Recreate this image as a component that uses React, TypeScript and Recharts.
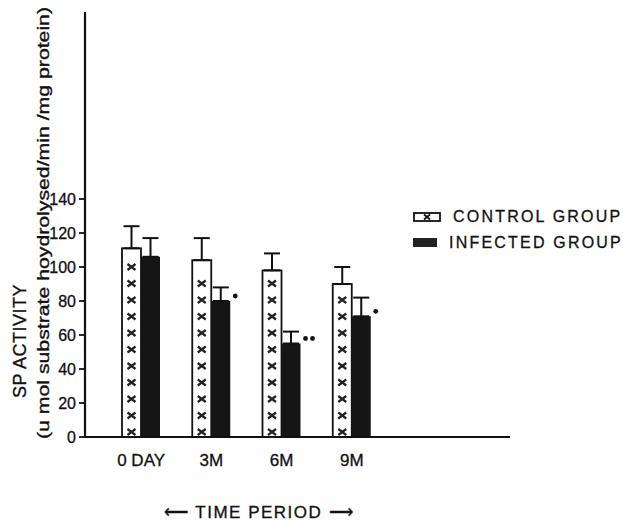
import { BarChart, Bar, XAxis, YAxis, ErrorBar, LabelList, Legend } from 'recharts'

const PERIODS = ['0 DAY', '3M', '6M', '9M']
const CONTROL = [111, 104, 98, 90]
const CONTROL_ERR = [13, 13, 10, 10]
const INFECTED = [106, 80, 55, 71]
const INFECTED_ERR = [11, 8, 7, 11]
const SIGNIFICANCE = ['', '•', '••', '•']
const Y_TICKS = [0, 20, 40, 60, 80, 100, 120, 140]

const FONT = '"Liberation Sans", Arial, sans-serif'
const INK = '#111'

const data = PERIODS.map((p, i) => ({
    period: p,
    control: CONTROL[i],
    controlErr: [0, CONTROL_ERR[i]],
    infected: INFECTED[i],
    infectedErr: [0, INFECTED_ERR[i]],
    sig: SIGNIFICANCE[i],
}))

// white bar with a column of x marks, like the hand drawn hatching
function CrossBar(props: any) {
    const { x, y, width, height } = props
    const cx = x + width / 2
    const marks: number[] = []
    for (let cy = y + height - 5; cy > y + 7; cy -= 16.5) marks.push(cy)
    return (
        <g>
            <rect x={x} y={y} width={width} height={height} fill="#fff" stroke={INK} strokeWidth={1.8} />
            {marks.map((cy, i) => (
                <path
                    key={i}
                    d={`M${cx - 4},${cy - 3}L${cx + 4},${cy + 3}M${cx - 4},${cy + 3}L${cx + 4},${cy - 3}`}
                    stroke="#222"
                    strokeWidth={2.2}
                />
            ))}
        </g>
    )
}

function SigDots(props: any) {
    const { x, y, width, value } = props
    if (!value) return null
    return (
        <g>
            {Array.from(value as string).map((_, i) => (
                <circle key={i} cx={x + width + 5 + i * 7} cy={y - 5} r={2.4} fill={INK} />
            ))}
        </g>
    )
}

function LegendBox() {
    const row = { display: 'flex', alignItems: 'center', height: 26, whiteSpace: 'nowrap' as const }
    const txt = { fontFamily: FONT, fontSize: 16, letterSpacing: 2.2, color: INK, marginLeft: 12, WebkitTextStroke: '0.3px #111' }
    return (
        <div>
            <div style={row}>
                <svg width={28} height={10}>
                    <rect x={1} y={1} width={26} height={8} fill="#fff" stroke={INK} strokeWidth={1.8} />
                    <path d="M11,2.5L17,7.5M11,7.5L17,2.5" stroke={INK} strokeWidth={1.8} />
                </svg>
                <span style={txt}>CONTROL GROUP</span>
            </div>
            <div style={row}>
                <svg width={28} height={10}>
                    <rect x={0} y={0} width={28} height={9} fill="#222" />
                </svg>
                <span style={txt}>INFECTED GROUP</span>
            </div>
        </div>
    )
}

function YLabel() {
    return (
        <g fill={INK} fontFamily={FONT} stroke={INK} strokeWidth={0.35}>
            <text x={20} y={341} fontSize={18} textAnchor="middle" dominantBaseline="central" letterSpacing={0.5} transform="rotate(-90 20 341)">
                SP ACTIVITY
            </text>
            <text
                x={43}
                y={223}
                fontSize={16}
                textAnchor="middle"
                dominantBaseline="central"
                textLength={432}
                lengthAdjust="spacingAndGlyphs"
                transform="rotate(-90 43 223)"
            >
                (u mol substrate hoydrolysed/min /mg protein)
            </text>
        </g>
    )
}

function XLabel() {
    return (
        <text
            x={259}
            y={512}
            fontSize={17}
            fontFamily={FONT}
            fill={INK}
            stroke={INK}
            strokeWidth={0.3}
            textAnchor="middle"
            dominantBaseline="central"
            letterSpacing={1.5}
        >
            ⟵ TIME PERIOD ⟶
        </text>
    )
}

export default function App() {
    return (
        <div style={{ position: 'absolute', left: 0, top: 0, background: '#fff' }}>
            <BarChart
                width={623}
                height={520}
                data={data}
                margin={{ top: 12, right: 113, bottom: 0, left: 0 }}
                barSize={19}
                barGap={0}
            >
                <XAxis
                    dataKey="period"
                    height={83}
                    padding={{ left: 21, right: 123 }}
                    axisLine={{ stroke: INK, strokeWidth: 1.8 }}
                    tickLine={false}
                    tickSize={0}
                    tickMargin={17}
                    tick={{ fill: INK, fontSize: 17, fontFamily: FONT, stroke: INK, strokeWidth: 0.3 }}
                    label={{ content: () => <XLabel /> }}
                />
                <YAxis
                    width={85}
                    domain={[0, 250]}
                    allowDataOverflow
                    ticks={Y_TICKS}
                    axisLine={{ stroke: INK, strokeWidth: 2.2 }}
                    tickLine={{ stroke: INK, strokeWidth: 1.8 }}
                    tickSize={6}
                    tickMargin={3}
                    tick={{ fill: INK, fontSize: 16, fontFamily: FONT, stroke: INK, strokeWidth: 0.3 }}
                    label={{ content: () => <YLabel /> }}
                />
                <Legend
                    layout="vertical"
                    align="center"
                    verticalAlign="middle"
                    content={() => <LegendBox />}
                    wrapperStyle={{ position: 'absolute', left: 413, top: 204, width: 210 }}
                />
                <Bar dataKey="control" name="CONTROL GROUP" shape={<CrossBar />} isAnimationActive={false}>
                    <ErrorBar dataKey="controlErr" width={8} strokeWidth={2} stroke={INK} direction="y" />
                </Bar>
                <Bar dataKey="infected" name="INFECTED GROUP" fill="#151515" isAnimationActive={false}>
                    <ErrorBar dataKey="infectedErr" width={8} strokeWidth={2} stroke={INK} direction="y" />
                    <LabelList dataKey="sig" content={<SigDots />} />
                </Bar>
            </BarChart>
        </div>
    )
}
